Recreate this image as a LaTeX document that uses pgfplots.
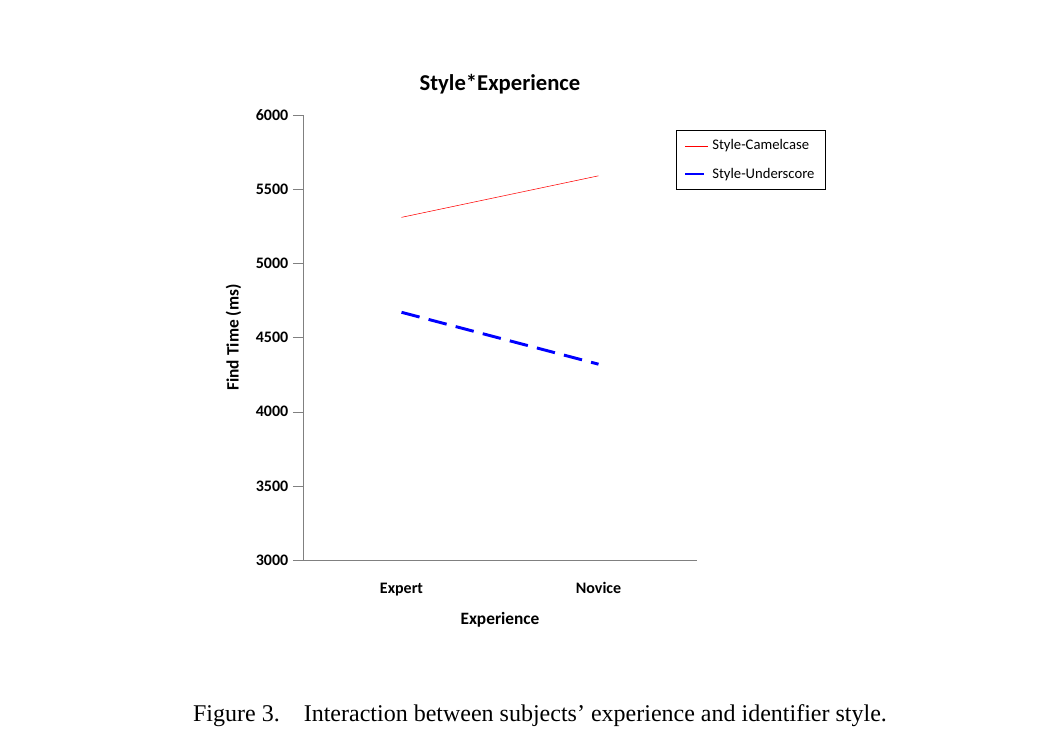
\documentclass[border=0pt]{standalone}
\usepackage{pgfplots}
\pgfplotsset{compat=1.18}
\usepackage{fontspec}
\setmainfont{Carlito}
\newfontfamily\capfont{Liberation Serif}
\begin{document}
\begin{tikzpicture}
\path (0pt,0pt) rectangle (787.5pt,562.5pt);
\begin{axis}[at={(227.25pt,142.5pt)},anchor=south west,scale only axis,
 width=295.5pt,height=333.75pt,
 xmin=0.5,xmax=2.5,ymin=3000,ymax=6000,
 axis x line=bottom, axis y line=left,
 axis line style={gray,-},
 ytick={3000,3500,...,6000}, xtick={1,2}, xticklabels={Expert,Novice},
 major tick length=7.5pt, y tick style={gray}, x tick style={draw=none},
 tick align=outside,
 /pgf/number format/assume math mode=true,
 /pgf/number format/1000 sep={},
 ticklabel style={font=\bfseries\fontsize{12}{14}\selectfont},
 xticklabel style={yshift=-6pt},
 xlabel={Experience}, ylabel={Find Time (ms)},
 label style={font=\bfseries\fontsize{13}{15}\selectfont},
 xlabel style={yshift=-6pt},
 ylabel style={yshift=4pt},
 title={Style*Experience}, title style={font=\bfseries\fontsize{17}{19}\selectfont,yshift=6pt},
 legend style={at={(1.0,0.966)},anchor=north west,xshift=-16pt,font=\fontsize{11}{13}\selectfont,draw=black,row sep=8pt,inner xsep=6pt,inner ysep=5pt},
 legend cell align=left,
]
\addplot[red,thin] coordinates {(1,5310) (2,5590)};
\addlegendentry{Style-Camelcase}
\addplot[blue,line width=2.2pt,dash pattern=on 14pt off 7pt] coordinates {(1,4670) (2,4320)};
\addlegendentry{Style-Underscore}
\end{axis}
\node[font=\capfont\fontsize{18}{20}\selectfont] at (405pt,26pt) {Figure 3.\quad Interaction between subjects’ experience and identifier style.};
\end{tikzpicture}
\end{document}
